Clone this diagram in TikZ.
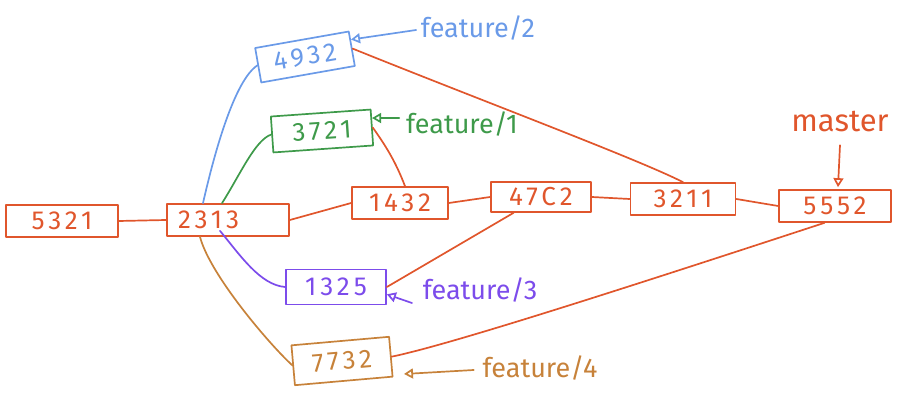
\documentclass[tikz,border=0pt]{standalone}
\usepackage{fontspec}
\setmainfont{Fira Sans}
\newfontfamily\digitfont[LetterSpace=15]{Fira Sans}
\usetikzlibrary{arrows.meta,calc}
\definecolor{cred}{RGB}{224,86,44}
\definecolor{cblue}{RGB}{106,154,232}
\definecolor{cgreen}{RGB}{62,154,74}
\definecolor{cpurple}{RGB}{124,76,235}
\definecolor{cbrown}{RGB}{199,130,58}
\begin{document}
\begin{tikzpicture}[x=1pt,y=-1pt,line width=1.7pt,line cap=round,line join=round,
  commit/.style={draw,inner sep=0pt,minimum height=32pt,font=\digitfont\fontsize{26}{26}\selectfont},
  lbl/.style={inner sep=0pt,font=\fontsize{27}{27}\selectfont},
  tip/.style={-{Triangle[open,length=9pt,width=10pt]}}]
\useasboundingbox (0,0) rectangle (914,419);
% commits
\node[commit,cred,minimum width=112pt] (c5321) at (62,221) {5321};
\node[commit,cred,minimum width=122pt,text width=100pt,align=left] (c2313) at (228,220) {2313};
\node[commit,cred,minimum width=96pt] (c1432) at (400,203) {1432};
\node[commit,cred,minimum width=100pt,minimum height=30pt] (c47C2) at (541,197) {47C2};
\node[commit,cred,minimum width=105pt] (c3211) at (683,199) {3211};
\node[commit,cred,minimum width=112pt] (c5552) at (835,206) {5552};
\node[commit,cblue,minimum width=95pt,minimum height=35pt,rotate=10] (c4932) at (305,57) {4932};
\node[commit,cgreen,minimum width=100pt,minimum height=36pt,rotate=4] (c3721) at (322,131) {3721};
\node[commit,cpurple,minimum width=100pt,minimum height=35pt] (c1325) at (336,287) {1325};
\node[commit,cbrown,minimum width=98pt,minimum height=40pt,rotate=5] (c7732) at (342,361) {7732};
% branch labels
\node[lbl,cblue] (f2) at (478,28) {feature/2};
\node[lbl,cgreen] (f1) at (462,124) {feature/1};
\node[lbl,cpurple] (f3) at (480,290) {feature/3};
\node[lbl,cbrown] (f4) at (540,368) {feature/4};
\node[lbl,cred,font=\fontsize{31}{31}\selectfont] (master) at (840,122) {master};
\coordinate (t4) at (404,374);
% main line
\draw[cred] (c5321.east) -- (c2313.west);
\draw[cred] (c2313.east) -- (c1432.west);
\draw[cred] (c1432.east) -- (c47C2.west);
\draw[cred] (c47C2.east) -- (c3211.west);
\draw[cred] (c3211.east) -- (c5552.west);
% merges
\draw[cred] (c4932.east) .. controls (480,100) and (640,160) .. (c3211.north);
\draw[cred] ($(c1432.north)+(5,0)$) .. controls (395,160) and (385,145) .. (c3721.east);
\draw[cred] (c47C2.210) -- (c1325.east);
\draw[cred] (c5552.238) .. controls (650,280) and (450,345) .. (c7732.east);
% branches from 2313
\draw[cblue] ($(c2313.north)+(-25,0)$) .. controls (215,150) and (235,80) .. (c4932.west);
\draw[cgreen] ($(c2313.north)+(-6,0)$) .. controls (240,175) and (255,140) .. (c3721.west);
\draw[cpurple] ($(c2313.south)+(-8,-6)$) .. controls (240,255) and (260,285) .. (c1325.west);
\draw[cbrown] ($(c2313.south)+(-28,0)$) .. controls (210,275) and (270,345) .. (c7732.west);
% branch pointers
\draw[cblue,tip] ($(f2.west)+(-4,2)$) -- ($(c4932.north east)!0.25!(c4932.south east)$);
\draw[cgreen,tip] ($(f1.west)+(-6,-6)$) -- ($(c3721.north east)!0.25!(c3721.south east)$);
\draw[cpurple,tip] ($(f3.west)+(-10,13)$) -- ($(c1325.south east)!0.3!(c1325.north east)$);
\draw[cbrown,tip] ($(f4.west)+(-8,2)$) -- (t4);
\draw[cred,tip] ($(master.south)+(0,12)$) -- ($(c5552.north)+(3,-2)$);
\end{tikzpicture}
\end{document}
